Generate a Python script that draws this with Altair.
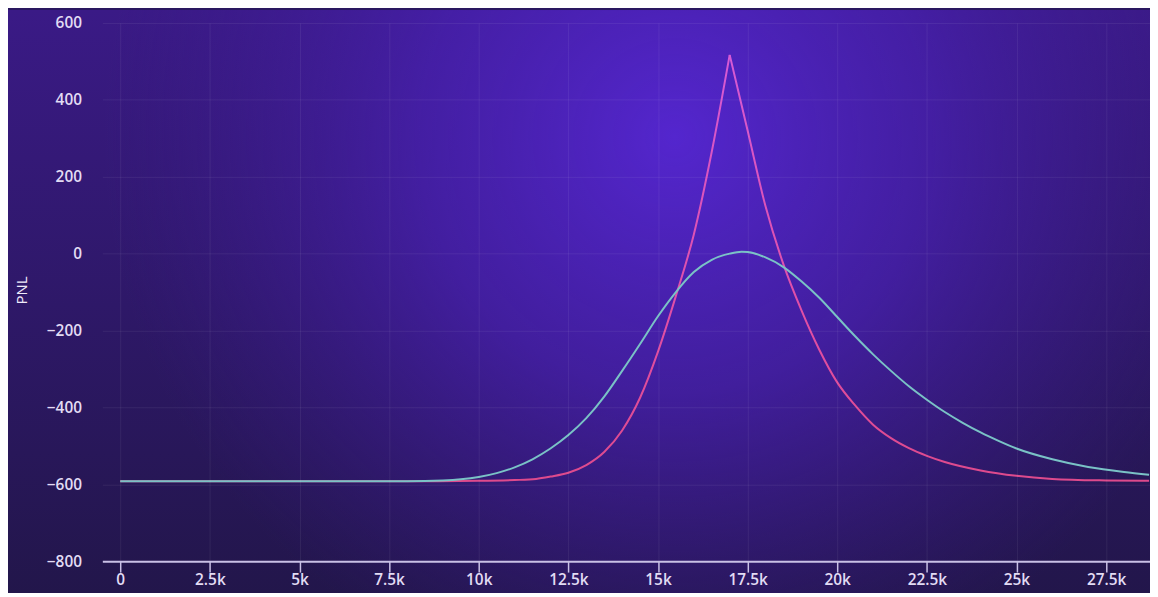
import altair as alt
import pandas as pd

# ---- data ----
mag_x = [0, 4000, 8000, 10000, 11000, 11600, 12000, 12500, 13000, 13500, 14000, 14500, 15000, 15500, 16000, 16500, 17000,
         17500, 18000, 18500, 19000, 19500, 20000, 20500, 21000, 21500, 22000, 22500, 23000, 24000, 25000, 26000, 27500, 28700]
mag_y = [-592, -592, -592, -591, -589, -586, -580, -570, -550, -516, -460, -375, -255, -110, 50, 265, 517,
         320, 123, -28, -147, -250, -335, -395, -445, -480, -506, -526, -542, -564, -578, -586, -590, -591]
mag_seg = ["L"] * 17 + ["R"] * 17

teal_x = [0, 4000, 8000, 9000, 9500, 10000, 10500, 11000, 11500, 12000, 12500, 13000, 13500, 14000, 14500, 15000,
          15500, 16000, 16500, 17000, 17330, 17500, 18000, 18500, 19000, 19500, 20000, 20500, 21000, 21500, 22000,
          22500, 23000, 23500, 24000, 24500, 25000, 26000, 27000, 28000, 28700]
teal_y = [-592, -592, -592, -590, -587, -581, -571, -556, -535, -507, -472, -428, -372, -305, -235, -163,
          -100, -48, -16, 0, 5, 4, -10, -35, -72, -115, -165, -215, -262, -305, -345,
          -380, -412, -440, -465, -487, -507, -535, -555, -568, -575]

y_ticks = [-800, -600, -400, -200, 0, 200, 400, 600]
x_ticks = [0, 2500, 5000, 7500, 10000, 12500, 15000, 17500, 20000, 22500, 25000, 27500]

# ---- tables ----
mag_df = pd.DataFrame({"x": mag_x, "y": mag_y, "seg": mag_seg})
# the peak point belongs to both segments so the two halves meet
peak = mag_df.iloc[16:17].copy()
peak["seg"] = "R"
mag_df = pd.concat([mag_df, peak]).sort_values(["seg", "x"]).reset_index(drop=True)
teal_df = pd.DataFrame({"x": teal_x, "y": teal_y})

W, H = 1055, 542

xscale = alt.Scale(domain=[-500, 28725], nice=False, zero=False)
yscale = alt.Scale(domain=[-800, 600], nice=False, zero=False)

label_color = "#e2dcf4"
FS = 15.5

xaxis = alt.Axis(values=x_ticks, labelExpr="datum.value == 0 ? '0' : (datum.value/1000) + 'k'",
                 title=None, grid=True, gridColor="#ffffff", gridOpacity=0.07, zindex=1,
                 domainColor="#c9c0e6", domainWidth=2, tickColor="#c9c0e6", tickWidth=1.5, tickSize=11,
                 labelColor=label_color, labelFont="Open Sans", labelFontSize=FS, labelFontWeight=600,
                 labelPadding=0)
yaxis = alt.Axis(values=y_ticks, format="d", title="PNL", grid=True, gridColor="#ffffff", gridOpacity=0.07,
                 domain=False, ticks=False, labelPadding=21, zindex=1,
                 labelColor=label_color, labelFont="Open Sans", labelFontSize=FS, labelFontWeight=600,
                 titleColor="#f0ecfa", titleFont="Open Sans", titleFontSize=15, titleFontWeight=500,
                 titleX=-81, titleY=H / 2 - 2, titleAngle=-90, titleBaseline="middle", titleAlign="center")

# background: vertical base + radial glow
bg_base = alt.Chart(pd.DataFrame({"a": [0]})).mark_rect(
    clip=False,
    fill=alt.Gradient(gradient="linear", x1=0, y1=0, x2=0, y2=1,
                      stops=[alt.GradientStop(color="#3a1a86", offset=0),
                             alt.GradientStop(color="#2e1868", offset=0.5),
                             alt.GradientStop(color="#22164a", offset=1)])
).encode(x=alt.value(-95), x2=alt.value(W), y=alt.value(-13), y2=alt.value(H + 40))

bg_glow = alt.Chart(pd.DataFrame({"a": [0]})).mark_rect(
    clip=False,
    fill=alt.Gradient(gradient="radial", x1=0.584, y1=0.352, r1=0, x2=0.584, y2=0.352, r2=0.5,
                      stops=[alt.GradientStop(color="rgba(84,38,206,1)", offset=0),
                             alt.GradientStop(color="rgba(72,32,176,0.75)", offset=0.45),
                             alt.GradientStop(color="rgba(60,26,140,0)", offset=1)])
).encode(x=alt.value(-95), x2=alt.value(W), y=alt.value(-13), y2=alt.value(H + 40))

axes_layer = alt.Chart(teal_df).mark_line(opacity=0).encode(
    x=alt.X("x:Q", scale=xscale, axis=xaxis),
    y=alt.Y("y:Q", scale=yscale, axis=yaxis),
)

teal_line = alt.Chart(teal_df).mark_line(interpolate="monotone", strokeWidth=2, color="#7ac2c6").encode(
    x=alt.X("x:Q", scale=xscale),
    y=alt.Y("y:Q", scale=yscale),
)

mag_line = alt.Chart(mag_df).mark_line(
    interpolate="monotone", strokeWidth=2,
    color=alt.Gradient(gradient="linear", x1=0, y1=0, x2=0, y2=1,
                       stops=[alt.GradientStop(color="#d65ad6", offset=0),
                              alt.GradientStop(color="#e04fa6", offset=0.6),
                              alt.GradientStop(color="#de4a8c", offset=1)])
).encode(
    x=alt.X("x:Q", scale=xscale),
    y=alt.Y("y:Q", scale=yscale),
    detail="seg:N",
)

chart = alt.layer(bg_base, bg_glow, axes_layer, mag_line, teal_line).properties(
    width=W, height=H,
    autosize=alt.AutoSizeParams(type="none"),
    padding={"left": 95, "top": 13, "right": 0, "bottom": 30},
    background="#2a1860",
).configure_view(stroke=None)

chart.save("out.html", embed_options={"renderer": "svg", "actions": False})
